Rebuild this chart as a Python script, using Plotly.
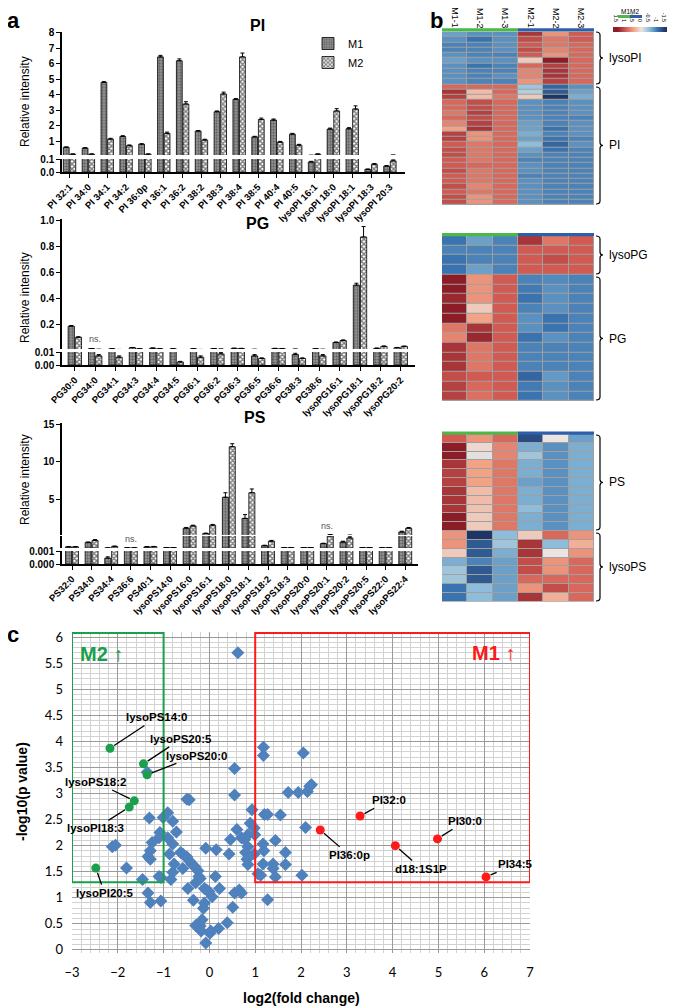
import plotly.graph_objects as go

# --- DADOS ---

# painel a: intensidade relativa (M1 / M2) e erro
PI_NAMES = ["PI 32:1", "PI 34:0", "PI 34:1", "PI 34:2", "PI 36:0p", "PI 36:1", "PI 36:2",
            "PI 38:2", "PI 38:3", "PI 38:4", "PI 38:5", "PI 40:4", "PI 40:5",
            "lysoPI 16:1", "lysoPI 18:0", "lysoPI 18:1", "lysoPI 18:3", "lysoPI 20:3"]
PI_M1 = [0.6, 0.55, 4.8, 1.3, 0.8, 6.45, 6.2, 1.65, 2.9, 3.7, 1.27, 2.36, 1.45, 0.077, 1.78, 1.8, 0.02, 0.045]
PI_M2 = [0.15, 0.15, 1.13, 0.7, 0.15, 1.5, 3.4, 1.07, 4.05, 6.45, 2.4, 0.93, 0.74, 0.15, 2.95, 3.08, 0.06, 0.085]
PI_E1 = [0.02, 0.02, 0.05, 0.05, 0.03, 0.1, 0.12, 0.03, 0.05, 0.05, 0.04, 0.07, 0.05, 0.005, 0.06, 0.07, 0.003, 0.004]
PI_E2 = [0.02, 0.02, 0.05, 0.05, 0.02, 0.08, 0.15, 0.05, 0.12, 0.25, 0.09, 0.05, 0.05, 0.02, 0.15, 0.2, 0.005, 0.008]

PG_NAMES = ["PG30:0", "PG34:0", "PG34:1", "PG34:3", "PG34:4", "PG34:5", "PG36:1", "PG36:2",
            "PG36:3", "PG36:5", "PG36:6", "PG38:3", "PG38:6",
            "lysoPG16:1", "lysoPG18:1", "lysoPG18:2", "lysoPG20:2"]
PG_M1 = [0.185, 0.013, 0.012, 0.02, 0.016, 0.012, 0.012, 0.013, 0.015, 0.007, 0.014, 0.008, 0.012, 0.06, 0.5, 0.015, 0.02]
PG_M2 = [0.10, 0.007, 0.006, 0.012, 0.012, 0.0023, 0.006, 0.0085, 0.014, 0.005, 0.013, 0.005, 0.007, 0.075, 0.87, 0.03, 0.03]
PG_E1 = [0.005, 0.001, 0.001, 0.002, 0.002, 0.001, 0.001, 0.001, 0.001, 0.001, 0.001, 0.001, 0.001, 0.004, 0.015, 0.002, 0.002]
PG_E2 = [0.004, 0.001, 0.001, 0.001, 0.001, 0.0005, 0.001, 0.001, 0.001, 0.0005, 0.001, 0.0005, 0.001, 0.005, 0.08, 0.003, 0.002]

PS_NAMES = ["PS32:0", "PS34:0", "PS34:4", "PS36:6", "PS40:1", "lysoPS14:0", "lysoPS16:0",
            "lysoPS16:1", "lysoPS18:0", "lysoPS18:1", "lysoPS18:2", "lysoPS18:3", "lysoPS20:0",
            "lysoPS20:1", "lysoPS20:2", "lysoPS20:5", "lysoPS22:0", "lysoPS22:4"]
PS_M1 = [0.03, 0.14, 0.00045, 0.005, 0.03, 0.01, 1.2, 0.5, 5.3, 2.5, 0.06, 0.01, 0.01, 0.11, 0.15, 0.01, 0.01, 0.7]
PS_M2 = [0.03, 0.19, 0.04, 0.005, 0.035, 0.01, 1.5, 1.6, 12.0, 5.9, 0.17, 0.01, 0.01, 0.3, 0.25, 0.01, 0.01, 1.2]
PS_E1 = [0.005, 0.01, 0.0001, 0.001, 0.005, 0.001, 0.1, 0.05, 0.6, 0.5, 0.01, 0.001, 0.001, 0.01, 0.02, 0.001, 0.001, 0.1]
PS_E2 = [0.005, 0.02, 0.01, 0.001, 0.005, 0.001, 0.1, 0.1, 0.4, 0.5, 0.02, 0.001, 0.001, 0.06, 0.03, 0.001, 0.001, 0.1]

# painel b: heatmaps (linhas x amostras)
HM_COLS = ["M1-1", "M1-2", "M1-3", "M2-1", "M2-2", "M2-3"]
HM_LYSOPI = [
    [-0.7, -0.8, -0.8, 1.3, 0.6, 1.0], [-0.8, -1.0, -0.8, 1.1, 0.8, 1.0],
    [-0.9, -0.9, -0.8, 1.0, 0.8, 0.9], [-0.9, -0.9, -0.8, 1.1, 0.7, 0.9],
    [-0.8, -0.9, -0.9, 1.0, 0.6, 0.9], [-0.7, -0.8, -0.8, 0.2, 1.6, 0.9],
    [-0.8, -1.0, -0.9, 0.9, 1.2, 0.9], [-0.8, -0.9, -0.9, 0.7, 1.3, 0.9],
    [-0.8, -0.9, -0.8, 0.7, 1.3, 0.9], [-0.8, -0.9, -0.9, 0.6, 1.2, 0.9]]
HM_PI = [
    [0.9, 0.9, 0.9, -0.4, -1.1, -0.8], [1.3, 0.3, 0.9, -0.3, -1.2, -0.7],
    [1.2, 0.3, 0.8, 0.2, -1.5, -0.6], [0.9, 1.1, 0.9, -0.8, -0.9, -0.8],
    [0.9, 1.1, 0.9, -0.8, -0.9, -0.8], [0.8, 1.2, 0.9, -0.8, -0.9, -0.8],
    [0.9, 1.1, 0.9, -0.8, -0.9, -0.9], [0.7, 1.2, 0.9, -0.7, -0.9, -0.8],
    [0.5, 1.3, 0.9, -0.7, -1.0, -0.8], [1.2, 0.6, 0.9, -0.6, -0.9, -0.8],
    [1.2, 0.6, 0.9, -0.7, -1.0, -0.9], [1.0, 0.8, 0.9, -0.5, -1.1, -0.8],
    [1.1, 0.8, 0.9, -0.7, -1.0, -0.9], [1.1, 0.8, 0.9, -0.8, -0.9, -0.9],
    [1.0, 0.8, 0.9, -0.9, -0.9, -0.9], [1.0, 0.9, 0.9, -0.8, -0.9, -0.9],
    [1.1, 0.8, 0.9, -0.8, -0.9, -0.9], [1.0, 0.8, 0.9, -0.9, -0.9, -0.9],
    [1.0, 0.8, 0.9, -0.8, -0.9, -0.9], [1.1, 0.7, 0.9, -0.8, -0.9, -0.9],
    [1.0, 0.8, 0.9, -0.8, -0.9, -0.9], [1.1, 0.6, 0.9, -0.8, -0.9, -0.9],
    [1.1, 0.6, 0.9, -0.8, -0.9, -0.9]]
HM_LYSOPG = [
    [-1.0, -0.7, -0.9, 1.3, 0.8, 1.0], [-0.9, -0.9, -0.9, 1.0, 1.0, 1.0],
    [-1.0, -0.9, -0.9, 1.0, 1.1, 1.0], [-1.0, -0.7, -0.9, 1.0, 1.0, 1.0]]
HM_PG = [
    [1.5, 0.6, 1.0, -0.9, -0.85, -0.9], [1.5, 0.6, 1.0, -0.95, -0.8, -0.9],
    [1.4, 0.6, 1.0, -1.0, -0.8, -0.9], [1.9, 0.2, 1.0, -0.9, -0.8, -0.9],
    [1.6, 0.5, 1.0, -0.8, -1.0, -0.9], [0.8, 1.3, 1.0, -0.8, -1.0, -0.9],
    [0.7, 1.4, 1.0, -1.0, -0.8, -0.9], [1.3, 0.8, 1.0, -0.9, -0.9, -0.9],
    [1.3, 0.8, 1.0, -0.9, -0.9, -0.9], [1.3, 0.8, 1.0, -0.9, -0.9, -0.9],
    [1.1, 1.0, 1.0, -1.1, -0.75, -0.9], [1.2, 0.9, 1.0, -0.95, -0.8, -0.9],
    [1.2, 0.85, 1.0, -1.0, -0.8, -0.9]]
HM_PS = [
    [1.0, 0.6, 0.9, -1.3, 0.0, -0.7], [1.6, 0.1, 0.7, -0.6, -0.8, -0.6],
    [1.6, -0.05, 0.7, -0.4, -0.8, -0.6], [1.3, 0.5, 0.8, -0.6, -0.8, -0.6],
    [1.2, 0.5, 0.8, -0.6, -0.8, -0.6], [1.2, 0.5, 0.8, -0.7, -0.8, -0.6],
    [1.3, 0.3, 0.8, -0.6, -0.8, -0.6], [1.3, 0.3, 0.8, -0.6, -0.8, -0.6],
    [1.3, 0.25, 0.8, -0.5, -0.8, -0.6], [1.5, 0.2, 0.8, -0.6, -0.8, -0.6],
    [1.5, 0.2, 0.8, -0.6, -0.8, -0.6]]
HM_LYSOPS = [
    [0.6, -1.5, -0.5, 0.2, 0.9, 0.6], [0.6, -1.2, -0.4, 1.3, -0.5, 0.4],
    [0.2, -1.2, -0.6, 1.3, 0.0, 0.6], [-0.6, -0.9, -0.7, 1.1, 0.6, 0.9],
    [-0.4, -1.2, -0.7, 1.1, 0.6, 0.9], [-0.4, -1.2, -0.7, 0.9, 0.9, 0.9],
    [-1.0, -0.5, -0.7, 0.6, 1.1, 0.9], [-1.0, -0.5, -0.7, 1.3, 0.4, 0.9]]
LEGEND_VALUES = [1.5, 1, 0.5, 0, -0.5, -1, -1.5]

# painel c: volcano plot
BLUE_X = [0.62, 1.18, 1.18, 2.05, 0.55, -1.36, 0.55, 1.72, 1.94, 2.14, 2.19, 2.23, -0.49, -0.44,
          -1.31, -1.01, -0.91, -0.80, -0.72, -1.08, -1.10, -2.12, -2.05, -1.25, -1.29, -1.34, -1.29,
          -0.91, -0.80, -0.87, -0.77, -0.80, -0.84, -1.10, -1.06, -1.81, -1.46, -1.34, -1.29, -1.06,
          -0.63, -0.58, -0.49, -0.44, -0.39, -0.31, -0.25, -0.58, -0.23, -0.20, -0.47, -0.30, -0.35,
          -0.08, 0.15, -0.11, -0.06, -0.01, 0.13, 0.06, 0.22, -0.11, -0.13, -0.16, -0.20, -0.30,
          -0.18, -0.08, 0.03, 0.01, 0.20, 0.39, 0.51, 0.55, 0.65, 0.43, 0.46, 0.60, 0.70, 0.77, 0.89,
          0.93, 0.98, 0.99, 0.84, 0.84, 0.79, 0.82, 0.84, 0.98, 1.06, 1.12, 1.17, 1.19, 1.17, 1.20,
          1.27, 1.39, 1.39, 1.44, 1.44, 1.55, 1.66, 1.66, 1.27, 2.10, 2.02, 0.70]
BLUE_Y = [5.70, 3.89, 3.73, 3.78, 3.48, 3.41, 2.97, 3.02, 3.02, 3.04, 3.14, 3.17, 2.89, 2.88,
          2.53, 2.54, 2.63, 2.47, 2.26, 2.25, 2.15, 1.98, 2.01, 2.06, 1.90, 1.79, 1.74,
          2.15, 2.03, 1.84, 1.65, 1.49, 1.35, 1.41, 1.39, 1.57, 1.35, 1.09, 0.91, 0.94,
          1.87, 1.84, 1.78, 1.71, 1.65, 1.59, 1.52, 1.56, 1.41, 1.37, 1.18, 1.29, 0.95,
          1.95, 1.92, 1.18, 1.15, 1.12, 1.41, 1.02, 1.18, 0.90, 0.80, 0.58, 0.46, 0.47,
          0.36, 0.13, 0.36, 0.32, 0.41, 0.52, 0.82, 1.09, 1.15, 1.84, 2.12, 2.31, 2.15, 2.12, 2.43,
          2.69, 2.34, 2.21, 2.21, 1.98, 1.87, 1.74, 1.64, 1.84, 1.46, 1.43, 2.03, 1.90, 1.65, 2.60,
          2.60, 1.65, 1.56, 2.10, 1.40, 2.59, 1.87, 1.64, 0.96, 2.35, 1.43, 1.09]
RED_NAMES = ["PI32:0", "PI36:0p", "PI30:0", "d18:1S1P", "PI34:5"]
RED_X = [3.29, 2.42, 4.98, 4.06, 6.04]
RED_Y = [2.57, 2.30, 2.13, 2.00, 1.40]
RED_LABEL_X = [3.92, 3.05, 5.58, 4.63, 6.67]
RED_LABEL_Y = [2.87, 1.82, 2.47, 1.56, 1.64]
GREEN_NAMES = ["lysoPS14:0", "lysoPS20:5", "lysoPS20:0", "lysoPS18:2", "lysoPI18:3", "lysoPI20:5"]
GREEN_X = [-2.17, -1.44, -1.36, -1.64, -1.75, -2.48]
GREEN_Y = [3.87, 3.57, 3.36, 2.86, 2.74, 1.57]
GREEN_LABEL_X = [-1.15, -0.61, -0.28, -2.48, -2.48, -2.29]
GREEN_LABEL_Y = [4.46, 4.05, 3.73, 3.22, 2.33, 1.09]
FC_CUT = 1.0
P_CUT = 1.3

# --- FIGURA ---

# a página tem margem de 8 px no body: a figura é menor e as posições são deslocadas
OFF = 8
W, H = 675 - OFF, 1008 - OFF
FONT = "Liberation Sans, Arial"


def fx(px):
    return (px - OFF) / W


def fy(py):
    return 1 - (py - OFF) / H


def note(text, x, y, size=12, **kw):
    """Texto em coordenadas de página (pixels da referência), centrado."""
    d = dict(x=fx(x), y=fy(y), xref="paper", yref="paper", text=text, showarrow=False,
             xanchor="center", yanchor="middle", font=dict(family=FONT, size=size, color="black"))
    d.update(kw)
    return d


fig = go.Figure()

M1_MARKER = dict(color="#9c9c9c", line=dict(color="black", width=0.8),
                 pattern=dict(shape=".", fgcolor="#2e2e2e", bgcolor="#9c9c9c", size=3, solidity=0.5))
M2_MARKER = dict(color="white", line=dict(color="black", width=0.8),
                 pattern=dict(shape="x", fgcolor="black", bgcolor="white", size=3.5, solidity=0.65))


def add_bars(names, m1, m2, e1, e2, xa, yas, legend=False):
    for i, ya in enumerate(yas):
        for label, vals, err, mk in (("M1", m1, e1, M1_MARKER), ("M2", m2, e2, M2_MARKER)):
            fig.add_trace(go.Bar(
                x=names, y=vals, name=label, marker=mk, xaxis=xa, yaxis=ya,
                error_y=dict(type="data", array=err, arrayminus=[0] * len(err), symmetric=False,
                             color="black", thickness=1, width=2),
                showlegend=legend and i == 0, legendgroup=label))


add_bars(PI_NAMES, PI_M1, PI_M2, PI_E1, PI_E2, "x", ["y", "y2"], legend=True)
add_bars(PG_NAMES, PG_M1, PG_M2, PG_E1, PG_E2, "x2", ["y3", "y4"])
add_bars(PS_NAMES, PS_M1, PS_M2, PS_E1, PS_E2, "x3", ["y5", "y6", "y7"])

# heatmaps
COLORSCALE = [[0.0, "#1e3565"], [0.1667, "#3a74b0"], [0.3333, "#8dbdda"], [0.5, "#ece4e0"],
              [0.6667, "#f2a285"], [0.8333, "#d15a52"], [1.0, "#8c1c26"]]
for xa, ya, z in (("x4", "y8", HM_LYSOPI + HM_PI), ("x5", "y9", HM_LYSOPG + HM_PG),
                  ("x6", "y10", HM_PS + HM_LYSOPS)):
    fig.add_trace(go.Heatmap(z=z, x=list(range(len(HM_COLS))), colorscale=COLORSCALE, zmin=-1.5, zmax=1.5,
                             xgap=1, ygap=1, showscale=False, xaxis=xa, yaxis=ya))
fig.add_trace(go.Heatmap(z=[LEGEND_VALUES], colorscale=COLORSCALE, zmin=-1.5, zmax=1.5, zsmooth="best",
                         showscale=False, xaxis="x7", yaxis="y11"))

# volcano
fig.add_trace(go.Scatter(x=BLUE_X, y=BLUE_Y, mode="markers", xaxis="x8", yaxis="y12", showlegend=False,
                         marker=dict(symbol="diamond", size=10, color="#4f81bd")))
fig.add_trace(go.Scatter(x=RED_X, y=RED_Y, mode="markers", xaxis="x8", yaxis="y12", showlegend=False,
                         marker=dict(symbol="circle", size=9, color="#ff1a1a")))
fig.add_trace(go.Scatter(x=GREEN_X, y=GREEN_Y, mode="markers", xaxis="x8", yaxis="y12", showlegend=False,
                         marker=dict(symbol="circle", size=9, color="#1a9f4a")))

# --- EIXOS ---

BOLD_TICK = dict(family=FONT, size=10, color="black", weight="bold")


def bar_x(left, right, rng, anchor):
    return dict(domain=[fx(left), fx(right)], range=rng, anchor=anchor, type="category", automargin=False,
                showline=True, linecolor="black", linewidth=1.5, ticks="outside", ticklen=4,
                tickwidth=1.2, tickcolor="black", tickangle=-45, tickmode="linear", dtick=1, tick0=0,
                tickfont=dict(family=FONT, size=9.5, color="black", weight="bold"), showgrid=False)


def bar_y(top, bottom, rng, anchor, tickvals=None, fmt=None):
    return dict(domain=[fy(bottom), fy(top)], range=rng, anchor=anchor, showline=True, linecolor="black",
                linewidth=1.5, ticks="outside" if tickvals else "", ticklen=4, tickwidth=1.2, tickcolor="black",
                tickvals=tickvals or [], tickformat=fmt, showticklabels=bool(tickvals), showgrid=False,
                zeroline=False, tickfont=BOLD_TICK, automargin=False)


def hidden(dom_x=None, dom_y=None, rng=None, anchor=None):
    d = dict(showticklabels=False, ticks="", showline=False, showgrid=False, zeroline=False, anchor=anchor,
             automargin=False)
    if dom_x:
        d["domain"] = [fx(dom_x[0]), fx(dom_x[1])]
    if dom_y:
        d["domain"] = [fy(dom_y[1]), fy(dom_y[0])]
    if rng:
        d["range"] = rng
    return d


fig.update_layout(
    width=W, height=H, margin=dict(l=0, r=0, t=0, b=0, pad=0, autoexpand=False),
    paper_bgcolor="white", plot_bgcolor="white",
    font=dict(family=FONT, color="black"),
    barmode="group", bargap=0.3, bargroupgap=0.12,
    legend=dict(x=fx(308), y=fy(29), xanchor="left", yanchor="top", bgcolor="rgba(0,0,0,0)",
                font=dict(family=FONT, size=11), itemwidth=30, tracegroupgap=0),
    # PI
    xaxis=bar_x(62, 405, [-0.4, 17.8], "y2"),
    yaxis=bar_y(32.2, 155, [0.1, 8.05], "x", [1, 2, 3, 4, 5, 6, 7, 8], "d"),
    yaxis2=bar_y(159, 172, [0, 0.1], "x", [0, 0.1], ".1f"),
    # PG
    xaxis2=bar_x(62, 415, [-0.63, 16.7], "y4"),
    yaxis3=bar_y(219.4, 349, [0.01, 1.005], "x2", [0.2, 0.4, 0.6, 0.8, 1.0], ".1f"),
    yaxis4=bar_y(352, 365, [0, 0.01], "x2", [0, 0.01], ".2f"),
    # PS
    xaxis3=bar_x(62, 418, [-0.51, 17.65], "y7"),
    yaxis5=bar_y(423.3, 535, [0.3, 15.1], "x3", [5, 10, 15], "d"),
    yaxis6=bar_y(536, 548, [0.001, 0.3], "x3"),
    yaxis7=bar_y(551, 564, [0, 0.001], "x3", [0, 0.001], ".3f"),
    # heatmaps
    xaxis4=hidden(dom_x=(442, 594), rng=[-0.5, 5.5], anchor="y8"),
    yaxis8=hidden(dom_y=(31.7, 205), rng=[32.5, -0.5], anchor="x4"),
    xaxis5=hidden(dom_x=(442, 594), rng=[-0.5, 5.5], anchor="y9"),
    yaxis9=hidden(dom_y=(235.7, 401), rng=[16.5, -0.5], anchor="x5"),
    xaxis6=hidden(dom_x=(442, 594), rng=[-0.5, 5.5], anchor="y10"),
    yaxis10=hidden(dom_y=(434, 601.7), rng=[18.5, -0.5], anchor="x6"),
    xaxis7=dict(domain=[fx(613), fx(669)], range=[-0.5, 6.5], anchor="y11", side="top", automargin=False,
                tickvals=list(range(len(LEGEND_VALUES))), ticktext=[f"{v:g}" for v in LEGEND_VALUES],
                ticks="", showline=False, showgrid=False, zeroline=False, ticklabelstandoff=0,
                tickfont=dict(family=FONT, size=5.5, color="black")),
    yaxis11=hidden(dom_y=(27, 32), anchor="x7"),
    # volcano
    xaxis8=dict(domain=[fx(72), fx(530)], range=[-3, 7], anchor="y12", tick0=-3, dtick=1, automargin=False,
                showgrid=True, gridcolor="#9a9a9a", gridwidth=1, showline=False, zeroline=False,
                minor=dict(dtick=0.2, tick0=0, showgrid=True, gridcolor="#d2d2d2", gridwidth=1),
                ticks="", ticklabelstandoff=10, tickfont=dict(family="Lato", size=13, color="black")),
    yaxis12=dict(domain=[fy(953), fy(632)], range=[-0.06, 6.1], anchor="x8", tick0=0, dtick=0.5,
                 showgrid=True, gridcolor="#9a9a9a", gridwidth=1, showline=False, zeroline=False,
                 minor=dict(dtick=0.1, tick0=0, showgrid=True, gridcolor="#d2d2d2", gridwidth=1),
                 automargin=False,
                 ticks="", ticklabelstandoff=8, tickfont=dict(family="Lato", size=13, color="black")),
)

# --- FORMAS E TEXTOS ---

shapes = []
annotations = []

# fundo cinza das células e barras de grupo sobre os heatmaps
for xa, top, bottom in (("x4", 28.3, 205), ("x5", 233, 401), ("x6", 431.5, 601.7)):
    shapes.append(dict(type="rect", xref=xa, yref="paper", x0=-0.5, x1=5.5, y0=fy(bottom), y1=fy(top + 3.4),
                       fillcolor="#a0a0a0", line_width=0, layer="below"))
    shapes.append(dict(type="rect", xref=xa, yref="paper", x0=-0.5, x1=2.5, y0=fy(top + 3.2), y1=fy(top),
                       fillcolor="#4cb84a", line_width=0))
    shapes.append(dict(type="rect", xref=xa, yref="paper", x0=2.5, x1=5.5, y0=fy(top + 3.2), y1=fy(top),
                       fillcolor="#2f5fa8", line_width=0))


def brace(x, y0, y1):
    ym = (y0 + y1) / 2
    pts = [("M", x - 4, y0), ("Q", x, y0, x, y0 + 3), ("L", x, ym - 3), ("Q", x, ym, x + 3, ym),
           ("Q", x, ym, x, ym + 3), ("L", x, y1 - 3), ("Q", x, y1, x - 4, y1)]
    path = ""
    for p in pts:
        cmd, coords = p[0], p[1:]
        xy = [f"{fx(coords[i])},{fy(coords[i + 1])}" for i in range(0, len(coords), 2)]
        path += cmd + " " + " ".join(xy) + " "
    return dict(type="path", xref="paper", yref="paper", path=path.strip(), line=dict(color="black", width=1.2))


for y0, y1, label in ((32, 84, "lysoPI"), (87, 204, "PI"), (236, 274, "lysoPG"), (277, 400, "PG"),
                      (435, 530, "PS"), (533, 601, "lysoPS")):
    shapes.append(brace(600, y0, y1))
    annotations.append(note(label, 607, (y0 + y1) / 2, 12, xanchor="left"))

# legenda M1/M2 do heatmap
shapes.append(dict(type="rect", xref="paper", yref="paper", x0=fx(618), x1=fx(630), y0=fy(18), y1=fy(15),
                   fillcolor="#4cb84a", line_width=0))
shapes.append(dict(type="rect", xref="paper", yref="paper", x0=fx(630), x1=fx(642), y0=fy(18), y1=fy(15),
                   fillcolor="#2f5fa8", line_width=0))
annotations.append(note("M1M2", 630, 11.5, 6.5))

for i, col in enumerate(HM_COLS):
    annotations.append(dict(x=i, y=fy(18), xref="x4", yref="paper", text=col, textangle=90, showarrow=False,
                            xanchor="center", yanchor="middle", font=dict(family=FONT, size=9)))

# limites do volcano
shapes.append(dict(type="rect", xref="x8", yref="y12", x0=-3, x1=-FC_CUT, y0=P_CUT, y1=6.08,
                   line=dict(color="#1a9f4a", width=2)))
shapes.append(dict(type="rect", xref="x8", yref="y12", x0=FC_CUT, x1=7, y0=P_CUT, y1=6.08,
                   line=dict(color="#ff1a1a", width=2)))

for names, xs, ys, lx, ly in ((RED_NAMES, RED_X, RED_Y, RED_LABEL_X, RED_LABEL_Y),
                              (GREEN_NAMES, GREEN_X, GREEN_Y, GREEN_LABEL_X, GREEN_LABEL_Y)):
    for n, x, y, tx, ty in zip(names, xs, ys, lx, ly):
        annotations.append(dict(x=x, y=y, xref="x8", yref="y12", ax=tx, ay=ty, axref="x8", ayref="y12",
                                text=n, showarrow=True, arrowhead=0, arrowwidth=1.3, arrowcolor="black",
                                standoff=5, startstandoff=1,
                                font=dict(family=FONT, size=11.5, color="black", weight="bold")))

annotations += [
    dict(x=-2.35, y=5.67, xref="x8", yref="y12", text="<b>M2</b> ↑", showarrow=False,
         font=dict(family=FONT, size=20, color="#1a9f4a")),
    dict(x=6.2, y=5.7, xref="x8", yref="y12", text="<b>M1</b> ↑", showarrow=False,
         font=dict(family=FONT, size=20, color="#ff1a1a")),
    note("<b>-log10(p value)</b>", 22, 792, 14, textangle=-90),
    note("<b>log2(fold change)</b>", 301, 998, 14),
]

# títulos e rótulos do painel a
for text, x, y, size in (("a", 13, 20, 22), ("b", 436, 20, 22), ("c", 13, 634, 22),
                         ("PI", 257, 25, 16), ("PG", 257, 224, 16), ("PS", 255, 418, 16)):
    annotations.append(note(f"<b>{text}</b>", x, y, size))
for y in (102, 298, 480):
    annotations.append(note("Relative intensity", 25, y, 12, textangle=-90))
for xa, cat, y in (("x2", "PG34:0", 339), ("x3", "PS36:6", 539), ("x3", "lysoPS20:1", 526)):
    annotations.append(dict(x=cat, y=fy(y), xref=xa, yref="paper", text="ns.", showarrow=False,
                            xanchor="center", yanchor="middle", font=dict(size=9, color="#555555")))

fig.update_layout(shapes=shapes, annotations=annotations)

fig.write_html("out.html")
